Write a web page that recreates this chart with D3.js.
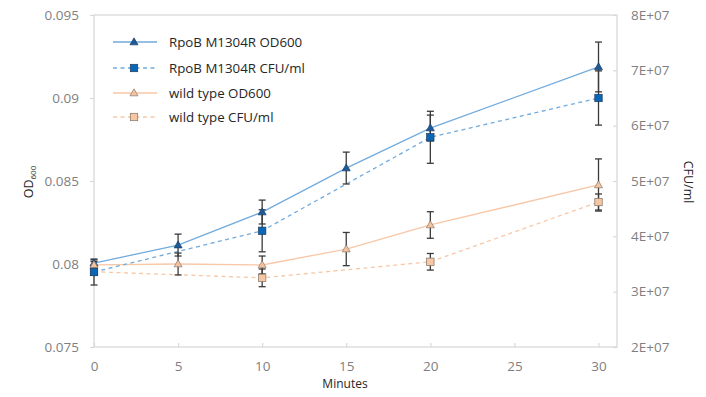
<!DOCTYPE html>
<html><head><meta charset="utf-8">
<script src="https://cdn.jsdelivr.net/npm/d3@7"></script>
<style>body{margin:0;background:#fff}svg{display:block;font-family:"Open Sans",sans-serif}</style>
</head><body><svg id="c" width="706" height="397"></svg>
<script>
const odTimes = [0, 5, 10, 15, 20, 30];
const cfuTimes = [0, 10, 20, 30];
const rpoOD = [0.08005, 0.08114, 0.08313, 0.08578, 0.08819, 0.09187];
const rpoODErr = [0.0002, 0.00066, 0.00072, 0.00096, 0.00078, 0.0015];
const wtOD = [0.07995, 0.08, 0.07994, 0.0809, 0.08235, 0.08476];
const wtODErr = [0.0002, 0.00066, 0.00054, 0.001, 0.0008, 0.00157];
const rpoCFU = [3.355e7, 4.10e7, 5.79e7, 6.50e7];
const rpoCFUErr = [2.35e6, 3.8e6, 4.7e6, 4.9e6];
const wtCFU = [3.36e7, 3.25e7, 3.54e7, 4.62e7];
const wtCFUErr = [0.3e6, 1.6e6, 1.5e6, 1.45e6];
const xTicks = [0, 5, 10, 15, 20, 25, 30];
const odTicks = [0.075, 0.08, 0.085, 0.09, 0.095];
const odTickLabels = ["0.075", "0.08", "0.085", "0.09", "0.095"];
const cfuTicks = [2e7, 3e7, 4e7, 5e7, 6e7, 7e7, 8e7];
const cfuTickLabels = ["2E+07", "3E+07", "4E+07", "5E+07", "6E+07", "7E+07", "8E+07"];
const legendLabels = ["RpoB M1304R OD600", "RpoB M1304R CFU/ml", "wild type OD600", "wild type CFU/ml"];

const svg = d3.select("#c");
const L = 94, R = 617, T = 15, B = 347;
const x = d3.scaleLinear().domain([0, 31.1]).range([L, R]);
const yL = d3.scaleLinear().domain([0.075, 0.095]).range([B, T]);
const yR = d3.scaleLinear().domain([2e7, 8e7]).range([B, T]);
const axisCol = "#d9d9d9", tickTxt = "#7f7f7f";

svg.append("rect").attr("x", L).attr("y", T).attr("width", R - L).attr("height", B - T)
  .attr("fill", "none").attr("stroke", axisCol).attr("stroke-width", 1.3);

const gx = svg.append("g").attr("transform", `translate(0,${B})`)
  .call(d3.axisBottom(x).tickValues(xTicks).tickSize(-4).tickPadding(14).tickFormat(d3.format("d")));
const gl = svg.append("g").attr("transform", `translate(${L},0)`)
  .call(d3.axisLeft(yL).tickValues(odTicks).tickSize(4).tickPadding(11).tickFormat((d, i) => odTickLabels[i]));
const gr = svg.append("g").attr("transform", `translate(${R},0)`)
  .call(d3.axisRight(yR).tickValues(cfuTicks).tickSize(-4).tickPadding(14).tickFormat((d, i) => cfuTickLabels[i]));
[gx, gl, gr].forEach(g => {
  g.select(".domain").remove();
  g.selectAll(".tick line").attr("stroke", axisCol).attr("stroke-width", 1.2);
  g.selectAll(".tick text").attr("fill", tickTxt).style("font-size", "13.5px").style("font-family", "'Open Sans',sans-serif");
});

svg.append("text").attr("x", 345).attr("y", 388).attr("text-anchor", "middle")
  .style("font-size", "12px").attr("fill", "#262626").text("Minutes");
const ot = svg.append("text").attr("transform", "translate(33,182) rotate(-90)").attr("text-anchor", "middle")
  .style("font-size", "12.5px").attr("fill", "#262626");
ot.append("tspan").text("OD");
ot.append("tspan").attr("dy", 3).style("font-size", "8px").text("600");
svg.append("text").attr("transform", "translate(684,182) rotate(90)").attr("text-anchor", "middle")
  .style("font-size", "12.5px").attr("fill", "#262626").text("CFU/ml");

const series = [
  {t: odTimes, v: rpoOD, e: rpoODErr, y: yL, line: "#72abdd", dash: null, shape: "tri", fill: "#1f5a96", stroke: "#173f69"},
  {t: odTimes, v: wtOD, e: wtODErr, y: yL, line: "#f7c7a6", dash: null, shape: "tri", fill: "#f3c2a1", stroke: "#8a7a6c"},
  {t: cfuTimes, v: wtCFU, e: wtCFUErr, y: yR, line: "#f7c7a6", dash: "4,3.5", shape: "sq", fill: "#f6c6a5", stroke: "#7f7366"},
  {t: cfuTimes, v: rpoCFU, e: rpoCFUErr, y: yR, line: "#72abdd", dash: "4,3.5", shape: "sq", fill: "#0a67b8", stroke: "#1c3c5c"}
];

function drawMarker(g, shape, cx, cy, fill, stroke) {
  if (shape === "tri") {
    g.append("path").attr("d", d3.symbol().type(d3.symbolTriangle).size(28)())
      .attr("transform", `translate(${cx},${cy + 0.5})`).attr("fill", fill).attr("stroke", stroke).attr("stroke-width", 0.7);
  } else {
    g.append("rect").attr("x", cx - 3.7).attr("y", cy - 3.7).attr("width", 7.4).attr("height", 7.4)
      .attr("fill", fill).attr("stroke", stroke).attr("stroke-width", 0.7);
  }
}

series.forEach(s => {
  const ln = d3.line().x((d, i) => x(s.t[i])).y(d => s.y(d));
  svg.append("path").datum(s.v).attr("d", ln).attr("fill", "none").attr("stroke", s.line)
    .attr("stroke-width", 1.3).attr("stroke-dasharray", s.dash);
});
series.forEach(s => {
  const g = svg.append("g").attr("stroke", "#3a3a3a").attr("stroke-width", 1.3);
  s.v.forEach((v, i) => {
    const cx = x(s.t[i]), y1 = s.y(v + s.e[i]), y2 = s.y(v - s.e[i]);
    g.append("line").attr("x1", cx).attr("x2", cx).attr("y1", y1).attr("y2", y2);
    g.append("line").attr("x1", cx - 3.5).attr("x2", cx + 3.5).attr("y1", y1).attr("y2", y1);
    g.append("line").attr("x1", cx - 3.5).attr("x2", cx + 3.5).attr("y1", y2).attr("y2", y2);
  });
});
series.forEach(s => {
  const g = svg.append("g");
  s.v.forEach((v, i) => drawMarker(g, s.shape, x(s.t[i]), s.y(v), s.fill, s.stroke));
});

const legOrder = [series[0], series[3], series[1], series[2]];
const legY = [42, 68, 93, 117];
legOrder.forEach((s, i) => {
  const g = svg.append("g");
  g.append("line").attr("x1", 113).attr("x2", 157).attr("y1", legY[i]).attr("y2", legY[i])
    .attr("stroke", s.line).attr("stroke-width", 1.3).attr("stroke-dasharray", s.dash);
  drawMarker(g, s.shape, 134, legY[i], s.fill, s.stroke);
  g.append("text").attr("x", 169).attr("y", legY[i] + 4.5).style("font-size", "13.3px")
    .attr("fill", "#262626").text(legendLabels[i]);
});
</script></body></html>
